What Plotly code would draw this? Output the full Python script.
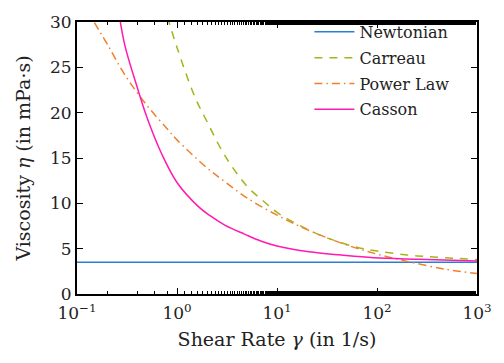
import plotly.graph_objects as go

# Data
newton_x = [0.1, 1000]
newton_y = [3.5, 3.5]

carreau_x = [0.8, 1.0, 1.5, 2, 3, 5, 7.4, 10, 18, 32.7, 64, 100, 200, 400, 1000]
carreau_y = [30.6, 27.2, 21.8, 19.0, 15.3, 11.9, 10.2, 9.0, 7.4, 6.13, 5.14, 4.75, 4.3, 4.05, 3.8]

power_x = [0.1, 0.15, 0.2, 0.3, 0.5, 0.8, 1, 2, 3, 5, 10, 20, 50, 100, 200, 500, 1000]
power_y = [33.3, 29.9, 27.6, 24.2, 20.8, 18.2, 17.0, 13.9, 12.4, 10.6, 8.7, 7.1, 5.4, 4.4, 3.6, 2.7, 2.26]

casson_x = [0.25, 0.3, 0.4, 0.5, 0.7, 1.0, 1.67, 2.2, 3, 4.74, 6.87, 10, 20.9, 44, 92.7, 262, 1000]
casson_y = [32.5, 27.5, 22.8, 19.5, 15.5, 12.3, 9.55, 8.55, 7.6, 6.6, 5.85, 5.3, 4.65, 4.29, 4.0, 3.83, 3.65]

x_tickvals = [0.1, 1, 10, 100, 1000]
x_ticktext = ["10<sup>−1</sup>", "10<sup>0</sup>", "10<sup>1</sup>", "10<sup>2</sup>", "10<sup>3</sup>"]
y_tickvals = [0, 5, 10, 15, 20, 25, 30]

FONT = "DejaVu Serif"
TXT = "#222222"

fig = go.Figure()
fig.add_trace(go.Scatter(x=newton_x, y=newton_y, mode="lines", name="Newtonian", legendgroup="a",
                         line=dict(color="#2a7fd4", width=1.5)))
fig.add_trace(go.Scatter(x=carreau_x, y=carreau_y, mode="lines", name="Carreau", legendgroup="b",
                         line=dict(color="#a3b618", width=1.5, dash="8px,7px", shape="spline")))
fig.add_trace(go.Scatter(x=power_x, y=power_y, mode="lines", name="Power Law", legendgroup="c",
                         line=dict(color="#f0802e", width=1.5, dash="8px,4px,1.5px,4px", shape="spline")))
fig.add_trace(go.Scatter(x=casson_x, y=casson_y, mode="lines", name="Casson", legendgroup="d",
                         line=dict(color="#ff1ab0", width=1.5, shape="spline")))

fig.update_layout(
    width=504, height=363,
    margin=dict(l=77, r=14, t=13, b=69),
    plot_bgcolor="white", paper_bgcolor="white",
    font=dict(family=FONT, size=17, color=TXT),
    legend=dict(x=0.581, y=1.026, xanchor="left", yanchor="top",
                bgcolor="rgba(255,255,255,0)", font=dict(size=16, color=TXT),
                tracegroupgap=2, itemwidth=40),
)
fig.update_xaxes(
    type="log", range=[-1, 3], tickvals=x_tickvals, ticktext=x_ticktext,
    showgrid=False, zeroline=False, showline=True, linecolor="black", linewidth=2,
    mirror="ticks", ticks="inside", ticklen=6, tickcolor="black", tickwidth=1,
    minor=dict(ticks="inside", ticklen=3, tickcolor="black", showgrid=False),
    title=dict(text="Shear Rate <i>γ</i> (in 1/s)", standoff=10, font=dict(size=19)),
    tickfont=dict(size=17), ticklabeloverflow="allow", ticklabelstandoff=3,
)
fig.update_yaxes(
    range=[0, 30], tickvals=y_tickvals,
    showgrid=False, zeroline=False, showline=True, linecolor="black", linewidth=2,
    mirror="ticks", ticks="inside", ticklen=6, tickcolor="black", tickwidth=1,
    title=dict(text="Viscosity <i>η</i> (in mPa·s)", standoff=14, font=dict(size=19)),
    tickfont=dict(size=17),
)

fig.write_html("out.html")
